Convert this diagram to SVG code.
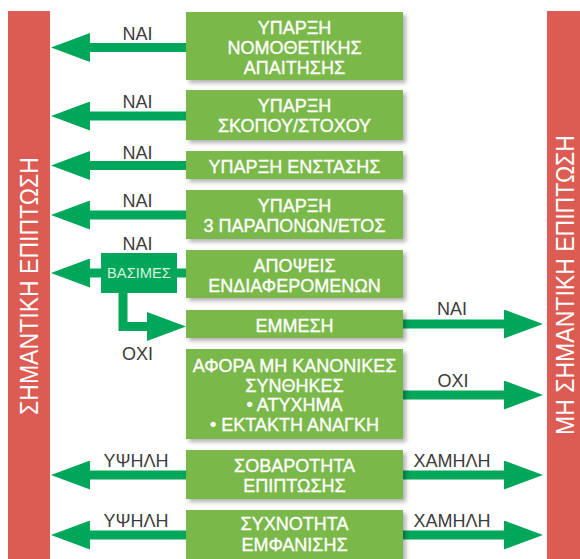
<svg xmlns="http://www.w3.org/2000/svg" width="580" height="559" viewBox="0 0 580 559">
<defs>
<style>
.bar{fill:#dc5b52}
.box{fill:#7ab84a;filter:url(#sh)}
.bt{font-family:"Liberation Sans",Arial,sans-serif;font-size:18px;fill:#ffffff;stroke:#ffffff;stroke-width:0.35;text-anchor:middle}
.lbl{font-family:"Liberation Sans",Arial,sans-serif;font-size:18px;fill:#3c3c3c;text-anchor:middle}
.vt{font-family:"Liberation Sans",Arial,sans-serif;font-size:26px;fill:#ffffff;text-anchor:middle}
.ar{stroke:#00a65a;stroke-width:9;fill:none;marker-end:url(#ah)}
</style>
<filter id="sh" x="-10%" y="-10%" width="130%" height="140%">
<feDropShadow dx="3" dy="3" stdDeviation="2" flood-color="#000" flood-opacity="0.3"/>
</filter>
<marker id="ah" markerUnits="userSpaceOnUse" viewBox="0 0 39 29" refX="0" refY="14.5" markerWidth="39" markerHeight="29" orient="auto">
<path d="M0,0 L39,14.5 L0,29 Z" fill="#00a65a"/>
</marker>
</defs>
<rect width="580" height="559" fill="#ffffff"/>

<g id="left-bar">
<rect class="bar" x="8" y="11" width="42" height="548"/>
<text class="vt" transform="translate(38,286) rotate(-90)" textLength="258" lengthAdjust="spacingAndGlyphs">ΣΗΜΑΝΤΙΚΗ ΕΠΙΠΤΩΣΗ</text>
</g>
<g id="right-bar">
<rect class="bar" x="547" y="11" width="33" height="548"/>
<text class="vt" transform="translate(574,285) rotate(-90)" font-size="25" style="font-size:25px" textLength="300" lengthAdjust="spacingAndGlyphs">ΜΗ ΣΗΜΑΝΤΙΚΗ ΕΠΙΠΤΩΣΗ</text>
</g>

<g id="connectors">
<line class="ar" x1="186" y1="47.5" x2="90" y2="47.5"/>
<line class="ar" x1="186" y1="116" x2="90" y2="116"/>
<line class="ar" x1="186" y1="165.5" x2="90" y2="165.5"/>
<line class="ar" x1="186" y1="215" x2="90" y2="215"/>
<line class="ar" x1="186" y1="273" x2="90" y2="273"/>
<path class="ar" d="M123,293 V326.5 H147" stroke-linejoin="miter"/>
<line class="ar" x1="403" y1="324" x2="504" y2="324"/>
<line class="ar" x1="403" y1="395" x2="504" y2="395"/>
<line class="ar" x1="186" y1="475" x2="90" y2="475"/>
<line class="ar" x1="403" y1="475" x2="504" y2="475"/>
<line class="ar" x1="186" y1="535" x2="90" y2="535"/>
<line class="ar" x1="403" y1="535" x2="504" y2="535"/>
<text class="lbl" x="137.5" y="40">ΝΑΙ</text>
<text class="lbl" x="137.5" y="108">ΝΑΙ</text>
<text class="lbl" x="137.5" y="159">ΝΑΙ</text>
<text class="lbl" x="137.5" y="207">ΝΑΙ</text>
<text class="lbl" x="137.5" y="250">ΝΑΙ</text>
<text class="lbl" x="137.5" y="360">ΟΧΙ</text>
<text class="lbl" x="452" y="315">ΝΑΙ</text>
<text class="lbl" x="453" y="387">ΟΧΙ</text>
<text class="lbl" x="136" y="467">ΥΨΗΛΗ</text>
<text class="lbl" x="452" y="467">ΧΑΜΗΛΗ</text>
<text class="lbl" x="136" y="527">ΥΨΗΛΗ</text>
<text class="lbl" x="452" y="527">ΧΑΜΗΛΗ</text>
</g>

<g id="basimes">
<rect x="101" y="253" width="76" height="40" fill="#00a65a"/>
<text x="139" y="278" font-family="Liberation Sans, Arial, sans-serif" font-size="14.7" fill="#d8f2de" text-anchor="middle">ΒΑΣΙΜΕΣ</text>
</g>

<g id="n1">
<rect class="box" x="186" y="12" width="217" height="68"/>
<text class="bt" x="294.5" y="34">ΥΠΑΡΞΗ</text>
<text class="bt" x="294.5" y="54">ΝΟΜΟΘΕΤΙΚΗΣ</text>
<text class="bt" x="294.5" y="74">ΑΠΑΙΤΗΣΗΣ</text>
</g>
<g id="n2">
<rect class="box" x="186" y="90" width="217" height="50"/>
<text class="bt" x="294.5" y="112">ΥΠΑΡΞΗ</text>
<text class="bt" x="294.5" y="132">ΣΚΟΠΟΥ/ΣΤΟΧΟΥ</text>
</g>
<g id="n3">
<rect class="box" x="186" y="151" width="217" height="28"/>
<text class="bt" x="294.5" y="173">ΥΠΑΡΞΗ ΕΝΣΤΑΣΗΣ</text>
</g>
<g id="n4">
<rect class="box" x="186" y="190" width="217" height="49"/>
<text class="bt" x="294.5" y="212">ΥΠΑΡΞΗ</text>
<text class="bt" x="294.5" y="232">3 ΠΑΡΑΠΟΝΩΝ/ΕΤΟΣ</text>
</g>
<g id="n5">
<rect class="box" x="186" y="250" width="217" height="48"/>
<text class="bt" x="294.5" y="272">ΑΠΟΨΕΙΣ</text>
<text class="bt" x="294.5" y="292">ΕΝΔΙΑΦΕΡΟΜΕΝΩΝ</text>
</g>
<g id="n6">
<rect class="box" x="186" y="310" width="217" height="28"/>
<text class="bt" x="294.5" y="332">ΕΜΜΕΣΗ</text>
</g>
<g id="n7">
<rect class="box" x="186" y="349" width="217" height="90"/>
<text class="bt" x="294.5" y="372">ΑΦΟΡΑ ΜΗ ΚΑΝΟΝΙΚΕΣ</text>
<text class="bt" x="294.5" y="392">ΣΥΝΘΗΚΕΣ</text>
<text class="bt" x="294.5" y="411">• ΑΤΥΧΗΜΑ</text>
<text class="bt" x="294.5" y="431">• ΕΚΤΑΚΤΗ ΑΝΑΓΚΗ</text>
</g>
<g id="n8">
<rect class="box" x="186" y="450" width="217" height="49"/>
<text class="bt" x="294.5" y="472">ΣΟΒΑΡΟΤΗΤΑ</text>
<text class="bt" x="294.5" y="492">ΕΠΙΠΤΩΣΗΣ</text>
</g>
<g id="n9">
<rect class="box" x="186" y="510" width="217" height="55"/>
<text class="bt" x="294.5" y="530">ΣΥΧΝΟΤΗΤΑ</text>
<text class="bt" x="294.5" y="551">ΕΜΦΑΝΙΣΗΣ</text>
</g>
</svg>
